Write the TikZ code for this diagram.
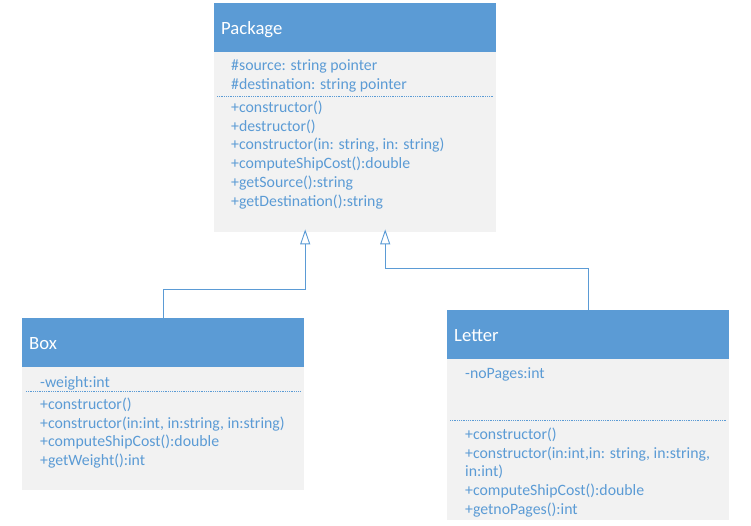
\documentclass[tikz,border=0pt]{standalone}
\usepackage{fontspec}
\setmainfont{Carlito}
\usetikzlibrary{arrows.meta,calc}
\definecolor{hdr}{HTML}{5B9BD5}
\definecolor{bodyc}{HTML}{F2F2F2}
\definecolor{txt}{HTML}{5B9BD5}
\tikzset{
  hdrbox/.style={fill=hdr, draw=none, anchor=north west, minimum width=282pt, minimum height=49pt,
    text width=268pt, align=left, inner xsep=7pt, inner ysep=0pt, text=white,
    text height=13pt, text depth=0pt,
    font=\fontsize{18.7}{22}\selectfont},
  bodybox/.style={fill=bodyc, draw=none, anchor=north west, minimum width=282pt, inner sep=0pt},
  item/.style={anchor=west, inner sep=0pt, text=txt, text height=10pt, text depth=1pt,
    font=\fontsize{15.8}{18}\selectfont},
  sep/.style={draw=txt, line width=0.6pt, dash pattern=on 0.9pt off 0.9pt},
  conn/.style={draw=hdr, line width=0.9pt, -{Triangle[open, width=10pt, length=15pt, fill=white]}}
}
\begin{document}
\begin{tikzpicture}[x=1pt,y=-1pt]
\useasboundingbox (0,0) rectangle (751,526);
% Package
\node[bodybox, minimum height=180pt] (pkgb) at (214,52) {};
\node[hdrbox] (pkgh) at (214,3) {Package};
\node[item] (p1) at (231,66) {\#source: string pointer};
\node[item] (p2) at (231,85) {\#destination: string pointer};
\coordinate (ps1) at (217,96);
\coordinate (ps2) at (493,96);
\draw[sep] (ps1) -- (ps2);
\node[item] (p3) at (231,108.5) {+constructor()};
\node[item] (p4) at (231,127.5) {+destructor()};
\node[item] (p5) at (231,145.5) {+constructor(in: string, in: string)};
\node[item] (p6) at (231,164.5) {+computeShipCost():double};
\node[item] (p7) at (231,183.5) {+getSource():string};
\node[item] (p8) at (231,202.5) {+getDestination():string};
% Box
\node[bodybox, minimum height=123pt] (boxb) at (22,367) {};
\node[hdrbox] (boxh) at (22,318) {Box};
\node[item] (b1) at (40,382.5) {-weight:int};
\coordinate (bs1) at (26,391);
\coordinate (bs2) at (301,391);
\draw[sep] (bs1) -- (bs2);
\node[item] (b2) at (40,404.5) {+constructor()};
\node[item] (b3) at (40,423.5) {+constructor(in:int, in:string, in:string)};
\node[item] (b4) at (40,441.5) {+computeShipCost():double};
\node[item] (b5) at (40,460.5) {+getWeight():int};
% Letter
\node[bodybox, minimum height=161pt] (letb) at (447,359) {};
\node[hdrbox] (leth) at (447,310) {Letter};
\node[item] (l1) at (465,373.5) {-noPages:int};
\coordinate (ls1) at (450,420);
\coordinate (ls2) at (726,420);
\draw[sep] (ls1) -- (ls2);
\node[item] (l2) at (465,434.5) {+constructor()};
\node[item] (l3) at (465,453.5) {+constructor(in:int,in: string, in:string,};
\node[item] (l4) at (465,471.5) {in:int)};
\node[item] (l5) at (465,490.5) {+computeShipCost():double};
\node[item] (l6) at (465,509.5) {+getnoPages():int};
% connectors
\coordinate (pa) at ($(pkgb.south)+(-50,-3)$);
\coordinate (pc) at ($(pkgb.south)+(30,-3)$);
\draw[conn] (boxh.north) -- ++(0,-29) -| (pa);
\draw[conn] (leth.north) -- ++(0,-42) -| (pc);
\end{tikzpicture}
\end{document}
